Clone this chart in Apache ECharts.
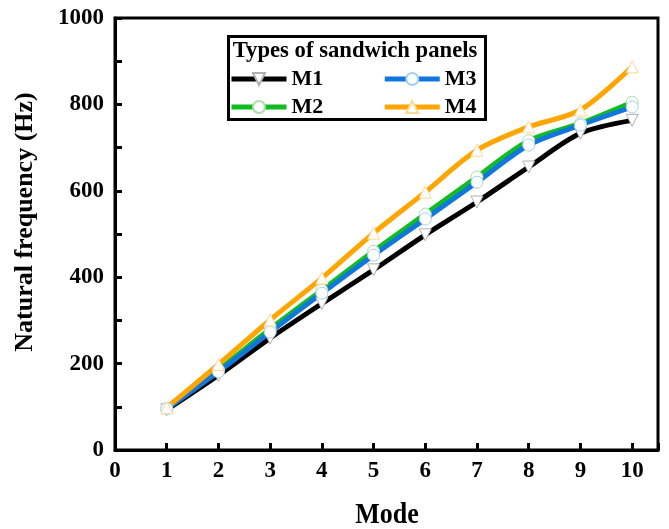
<!DOCTYPE html>
<html><head><meta charset="utf-8">
<script src="https://cdn.jsdelivr.net/npm/echarts@6/dist/echarts.min.js"></script>
<style>html,body{margin:0;padding:0;background:#fff}#c{width:669px;height:529px}</style>
</head><body><div id="c"></div>
<script>
const modes = [1,2,3,4,5,6,7,8,9,10];
const M1 = [93,173,259,339,417,498,574,655,733,763];
const M2 = [96,186,280,370,460,546,632,716,756,805];
const M3 = [95,181,273,363,451,535,620,706,752,794];
const M4 = [98,198,301,398,502,597,694,748,787,887];
const seriesNames = ['M1','M2','M3','M4'];
const legendTitle = 'Types of sandwich panels';
const xTitle = 'Mode';
const yTitle = 'Natural frequency (Hz)';
const yTicks = [0,200,400,600,800,1000];

const font = 'Liberation Serif';
const chart = echarts.init(document.getElementById('c'));
function ser(name, data, color, sym, symColor, rot){
  return {
    name, type:'line', data: modes.map((m,i)=>[m,data[i]]),
    smooth:0.3, symbol:sym, symbolSize:12, symbolRotate:rot||0,
    lineStyle:{color, width:5},
    itemStyle:{color:'#fff', borderColor:symColor, borderWidth:1},
    z: 2
  };
}
const legText = {fontFamily:font,fontWeight:'bold',fontSize:22,color:'#000'};
chart.setOption({
  animation:false,
  backgroundColor:'#fff',
  grid:{left:115,right:11,top:18,bottom:79,show:true,borderColor:'#000',borderWidth:3,backgroundColor:'transparent'},
  xAxis:{type:'value',min:0,max:10.5,interval:1,
    axisLine:{lineStyle:{color:'#000',width:3}},
    axisTick:{inside:true,length:7,lineStyle:{color:'#000',width:3}},
    axisLabel:{fontFamily:font,fontWeight:'bold',fontSize:23,color:'#000',margin:10,
      formatter:v=>Number.isInteger(v)?String(v):''},
    splitLine:{show:false}},
  yAxis:{type:'value',min:0,max:1000,interval:100,
    axisLine:{lineStyle:{color:'#000',width:3}},
    axisTick:{inside:true,length:7,lineStyle:{color:'#000',width:3}},
    axisLabel:{fontFamily:font,fontWeight:'bold',fontSize:23,color:'#000',margin:11,
      formatter:v=>yTicks.includes(v)?String(v):''},
    splitLine:{show:false}},
  legend:[
    {left:224,top:63,itemGap:59,itemWidth:55,itemHeight:15,z:20,
     data:['M1','M3'],textStyle:legText,lineStyle:{width:5}},
    {left:224,top:91,itemGap:59,itemWidth:55,itemHeight:15,z:20,
     data:['M2','M4'],textStyle:legText,lineStyle:{width:5}}
  ],
  graphic:[
    {type:'rect',left:227,top:35,shape:{width:257,height:83},style:{fill:'#fff',stroke:'#000',lineWidth:3},z:3},
    {type:'text',x:355,y:51,scaleX:1.08,scaleY:1.1,z:21,
     style:{text:legendTitle,font:'bold 21px "Liberation Serif"',fill:'#000',align:'center',verticalAlign:'middle'}},
    {type:'text',x:387,y:515,scaleY:1.15,z:21,
     style:{text:xTitle,font:'bold 26px "Liberation Serif"',fill:'#000',align:'center',verticalAlign:'middle'}},
    {type:'text',x:25,y:222,rotation:Math.PI/2,z:21,
     style:{text:yTitle,font:'bold 26px "Liberation Serif"',fill:'#000',align:'center',verticalAlign:'middle'}}
  ],
  series:[
    ser(seriesNames[0],M1,'#000000','triangle','#b0b0b0',180),
    ser(seriesNames[1],M2,'#11bb22','circle','#a8e0a8'),
    ser(seriesNames[2],M3,'#1177dd','circle','#a8d0ee'),
    ser(seriesNames[3],M4,'#ffa500','triangle','#ffd898')
  ]
});
</script></body></html>
